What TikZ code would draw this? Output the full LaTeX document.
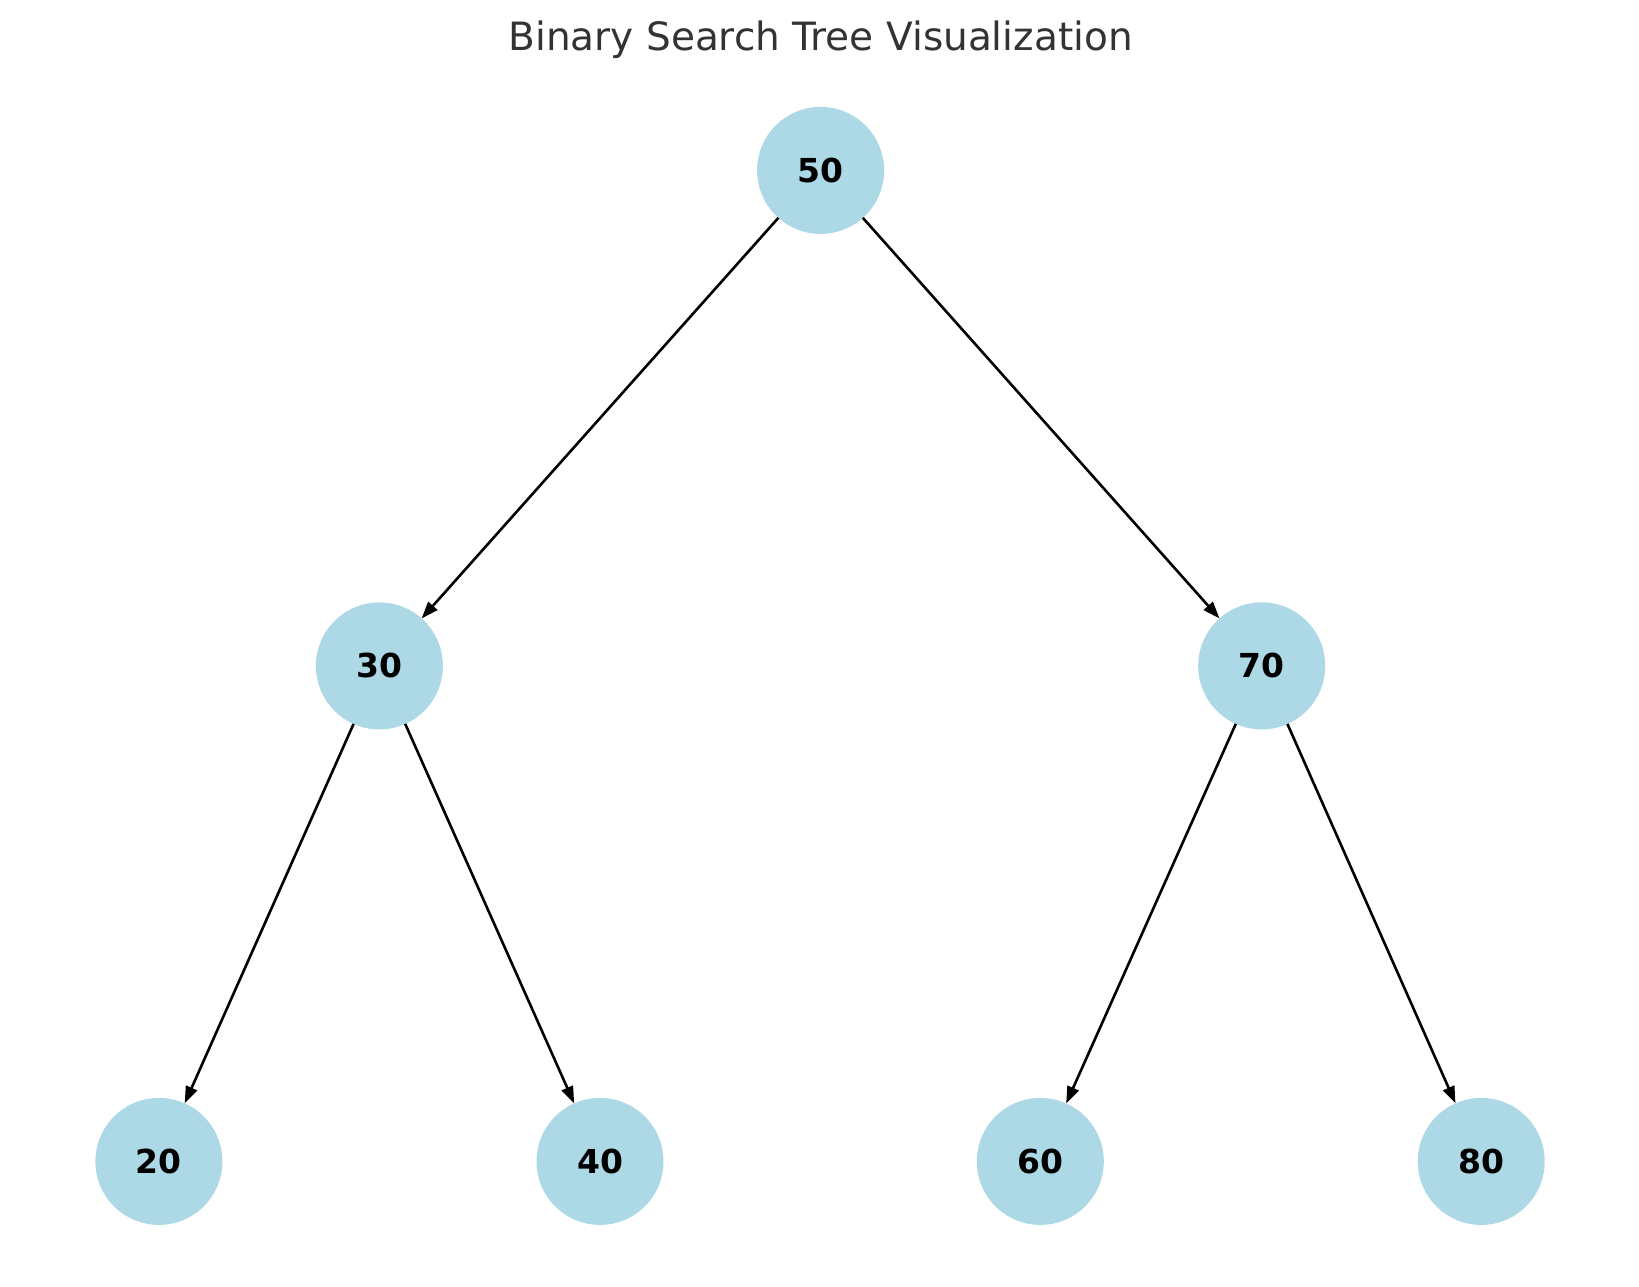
\documentclass[tikz,border=0pt]{standalone}
\usepackage{fontspec}
\setmainfont{DejaVu Sans}
\usetikzlibrary{arrows.meta}
\definecolor{lightblue}{HTML}{ADD8E6}
\definecolor{titlegray}{HTML}{333333}
\tikzset{
  bstnode/.style={circle, fill=lightblue, minimum size=127pt, inner sep=0pt, outer sep=0pt,
    font=\fontsize{33}{36}\selectfont\bfseries, text=black},
  bstedge/.style={line width=2.6pt, -{Triangle[length=17pt,width=12pt]}, shorten >=0pt}
}
\begin{document}
\begin{tikzpicture}[x=1pt,y=-1pt]
\useasboundingbox (0,0) rectangle (1639,1286);
\node[font=\fontsize{39}{43}\selectfont, text=titlegray] (title) at (820.6,39.5) {Binary Search Tree Visualization};
\node[bstnode] (n50) at (820.6,170.4) {50};
\node[bstnode] (n30) at (379.4,665.9) {30};
\node[bstnode] (n70) at (1261.7,665.9) {70};
\node[bstnode] (n20) at (158.9,1161.4) {20};
\node[bstnode] (n40) at (600.0,1161.4) {40};
\node[bstnode] (n60) at (1040.3,1161.4) {60};
\node[bstnode] (n80) at (1481.2,1161.4) {80};
\draw[bstedge] (n50) -- (n30);
\draw[bstedge] (n50) -- (n70);
\draw[bstedge] (n30) -- (n20);
\draw[bstedge] (n30) -- (n40);
\draw[bstedge] (n70) -- (n60);
\draw[bstedge] (n70) -- (n80);
\end{tikzpicture}
\end{document}
